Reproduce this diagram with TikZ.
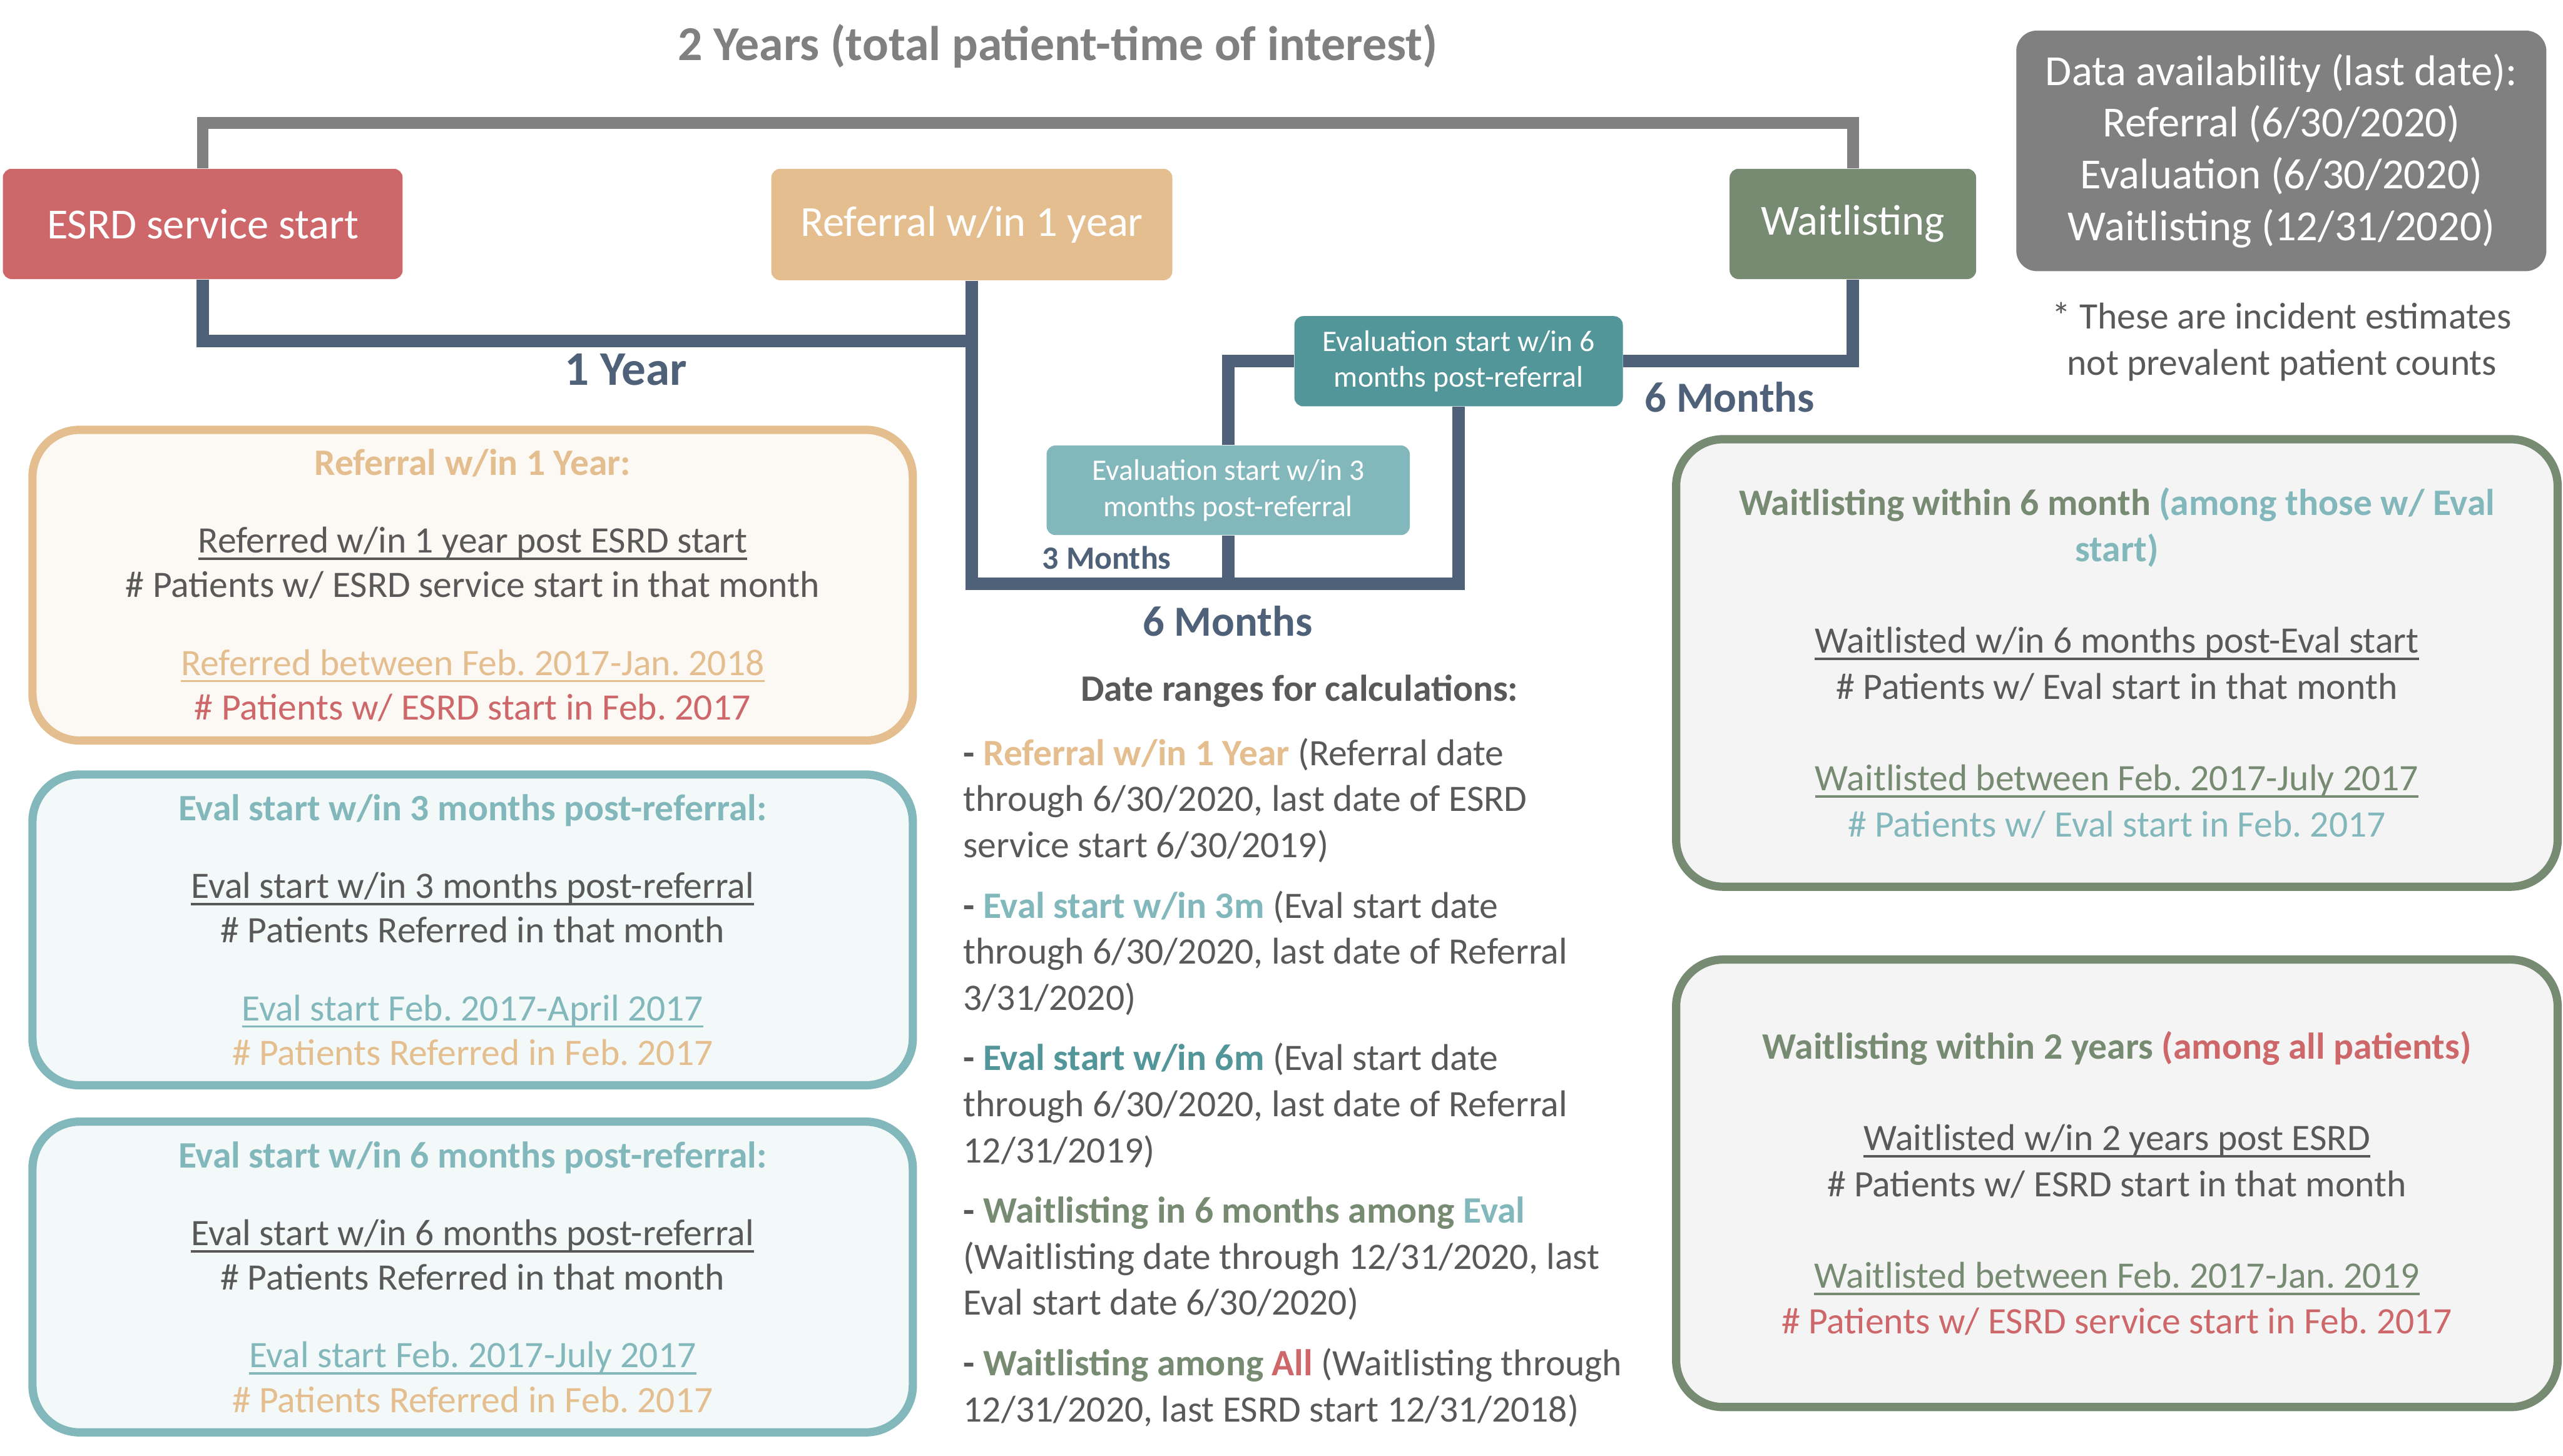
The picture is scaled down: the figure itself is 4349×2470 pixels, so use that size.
\documentclass[tikz,border=0pt]{standalone}
\usepackage{fontspec}
\setmainfont{Carlito}
\usetikzlibrary{positioning}

\definecolor{esrdred}{HTML}{CD6769}
\definecolor{reftan}{HTML}{E4BE8E}
\definecolor{waitgreen}{HTML}{778B73}
\definecolor{evaldark}{HTML}{52969A}
\definecolor{evallight}{HTML}{82B8BB}
\definecolor{availgray}{HTML}{808080}
\definecolor{navy}{HTML}{4F6079}
\definecolor{txtgray}{HTML}{595959}
\definecolor{creamfill}{HTML}{FCF9F4}
\definecolor{tealfill}{HTML}{F3F8F8}
\definecolor{greyfill}{HTML}{F4F4F4}

% underline with a thicker rule
\newcommand{\ulined}[2][-3.4pt]{\setbox0=\hbox{#2}\rlap{\rule[#1]{\wd0}{1.15pt}}\box0}

\begin{document}
\frenchspacing
\begin{tikzpicture}[x=0.01cm, y=-0.01cm,
    phase/.style={rounded corners=0.15cm, text=white, inner sep=0pt, font=\fontsize{20.7}{25}\selectfont},
    evalstep/.style={rounded corners=0.15cm, text=white, inner sep=0pt, align=center, font=\fontsize{14.4}{17.4}\selectfont},
    infobox/.style={draw, line width=0.14cm, rounded corners=0.8cm, inner sep=0pt, align=center, text=txtgray,
                    minimum width=14.93cm, minimum height=5.27cm, font=\fontsize{18}{21.5}\selectfont},
    waitbox/.style={infobox, draw=waitgreen, fill=greyfill, minimum width=14.95cm, minimum height=7.59cm,
                    font=\fontsize{18}{22.2}\selectfont},
    lane/.style={draw=navy, line width=0.21cm},
    span/.style={text=navy, font=\fontsize{20.7}{25}\selectfont\bfseries}]

  \useasboundingbox (0,0) rectangle (4349,2470);

  \node[text=availgray, font=\fontsize{23.5}{28}\selectfont\bfseries] (title) at (1795,78) {2 Years (total patient-time of interest)};

  % timeline
  \node[phase, fill=esrdred, minimum width=6.78cm, minimum height=1.87cm] (esrd) at (344,380) {ESRD service start};
  \node[phase, fill=reftan, minimum width=6.80cm, minimum height=1.89cm] (ref) at (1649,381) {Referral w/in 1 year};
  \node[phase, fill=waitgreen, minimum width=4.18cm, minimum height=1.87cm] (wait) at (3144,380) {Waitlisting};
  \node[evalstep, fill=evaldark, minimum width=5.57cm, minimum height=1.53cm] (ev6) at (2475,613) {Evaluation start w/in 6\\months post-referral};
  \node[evalstep, fill=evallight, minimum width=6.16cm, minimum height=1.52cm] (ev3) at (2084,832) {Evaluation start w/in 3\\months post-referral};

  \node[phase, fill=availgray, rounded corners=0.35cm, align=center, minimum width=8.99cm, minimum height=4.08cm] (avail) at (3871,256)
    {Data availability (last date):\\Referral (6/30/2020)\\Evaluation (6/30/2020)\\Waitlisting (12/31/2020)};
  \node[text=txtgray, align=center, font=\fontsize{18}{22.2}\selectfont] (note) at (3872,580)
    {* These are incident estimates\\not prevalent patient counts};

  \draw[draw=availgray, line width=0.2cm] (esrd.north) -- ++(0,-77) -| (wait.north);
  \draw[lane] (esrd.south) -- ++(0,104) -| (ref.south);
  \draw[lane] (ref.south) -- ++(0,514) -| (ev6.south);
  \draw[lane] (ev3.south) -- ++(0,82);
  \draw[lane] (ev3.north) |- (ev6.west);
  \draw[lane] (ev6.east) -| (wait.south);

  \node[span, font=\fontsize{23.3}{28}\selectfont\bfseries] (oneyr) at (1062,627) {1 Year};
  \node[span, font=\fontsize{15.7}{19}\selectfont\bfseries] (threemo) at (1878,946) {3 Months};
  \node[span] (sixmo) at (2083,1054) {6 Months};
  \node[span] (sixmob) at (2935,674) {6 Months};

  % left boxes
  \node[infobox, draw=reftan, fill=creamfill] (refq) at (802,993)
    {{\bfseries\color{reftan}Referral w/in 1 Year:}\\[16pt]
     \ulined{Referred w/in 1 year post ESRD start}\\
     \# Patients w/ ESRD service start in that month\\[16pt]
     {\color{reftan}\ulined{Referred between Feb. 2017-Jan. 2018}}\\
     {\color{esrdred}\# Patients w/ ESRD start in Feb. 2017}};
  \node[infobox, draw=evallight, fill=tealfill] (ev3q) at (802,1578)
    {{\bfseries\color{evallight}Eval start w/in 3 months post-referral:}\\[16pt]
     \ulined{Eval start w/in 3 months post-referral}\\
     \# Patients Referred in that month\\[16pt]
     {\color{evallight}\ulined{Eval start Feb. 2017-April 2017}}\\
     {\color{reftan}\# Patients Referred in Feb. 2017}};
  \node[infobox, draw=evallight, fill=tealfill] (ev6q) at (802,2167)
    {{\bfseries\color{evallight}Eval start w/in 6 months post-referral:}\\[16pt]
     \ulined{Eval start w/in 6 months post-referral}\\
     \# Patients Referred in that month\\[16pt]
     {\color{evallight}\ulined{Eval start Feb. 2017-July 2017}}\\
     {\color{reftan}\# Patients Referred in Feb. 2017}};

  % right boxes
  \node[waitbox] (wait6q) at (3592,1125)
    {{\bfseries\color{waitgreen}Waitlisting within 6 month \color{evallight}(among those w/ Eval}\\
     {\bfseries\color{evallight}start)}\\[22pt]
     \ulined{Waitlisted w/in 6 months post-Eval start}\\
     \# Patients w/ Eval start in that month\\[22pt]
     {\color{waitgreen}\ulined{Waitlisted between Feb. 2017-July 2017}}\\
     {\color{evallight}\# Patients w/ Eval start in Feb. 2017}};
  \node[waitbox] (wait2q) at (3592,2008)
    {{\bfseries\color{waitgreen}Waitlisting within 2 years \color{esrdred}(among all patients)}\\[22pt]
     \ulined{Waitlisted w/in 2 years post ESRD}\\
     \# Patients w/ ESRD start in that month\\[22pt]
     {\color{waitgreen}\ulined{Waitlisted between Feb. 2017-Jan. 2019}}\\
     {\color{esrdred}\# Patients w/ ESRD service start in Feb. 2017}};

  % date ranges
  \node[text=txtgray, font=\fontsize{18}{22}\selectfont\bfseries] (ranges) at (2205,1173) {Date ranges for calculations:};
  \node[anchor=north west, inner sep=0pt, align=left, text=txtgray, font=\fontsize{18}{22.2}\selectfont] (calc) at (1634,1252)
    {{\bfseries -} {\bfseries\color{reftan}Referral w/in 1 Year} (Referral date\\
     through 6/30/2020, last date of ESRD\\
     service start 6/30/2019)\\[7pt]
     {\bfseries -} {\bfseries\color{evallight}Eval start w/in 3m} (Eval start date\\
     through 6/30/2020, last date of Referral\\
     3/31/2020)\\[7pt]
     {\bfseries -} {\bfseries\color{evaldark}Eval start w/in 6m} (Eval start date\\
     through 6/30/2020, last date of Referral\\
     12/31/2019)\\[7pt]
     {\bfseries -} {\bfseries\color{waitgreen}Waitlisting in 6 months among} {\bfseries\color{evallight}Eval}\\
     (Waitlisting date through 12/31/2020, last\\
     Eval start date 6/30/2020)\\[7pt]
     {\bfseries -} {\bfseries\color{waitgreen}Waitlisting among} {\bfseries\color{esrdred}All} (Waitlisting through\\
     12/31/2020, last ESRD start 12/31/2018)};
\end{tikzpicture}
\end{document}
